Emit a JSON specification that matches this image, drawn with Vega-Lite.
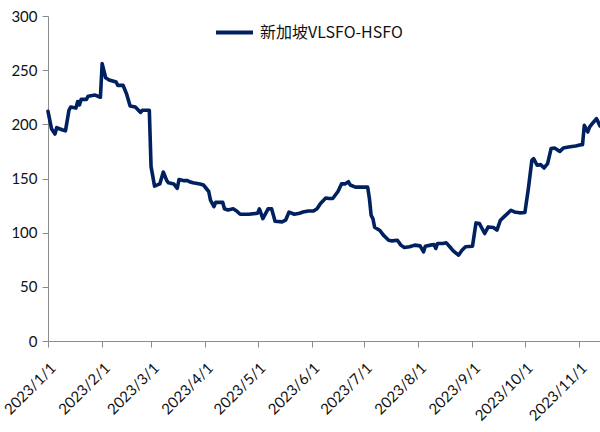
{
  "$schema": "https://vega.github.io/schema/vega-lite/v6.json",
  "width": 552,
  "height": 325,
  "autosize": {"type": "none"},
  "padding": {"left": 48, "top": 16, "right": 0, "bottom": 91},
  "background": "white",
  "config": {
    "view": {"stroke": null},
    "font": "Lato",
    "axis": {"labelFont": "Lato", "labelFontSize": 15, "labelColor": "#111111", "domainColor": "#8c8c8c", "tickColor": "#8c8c8c", "tickSize": 6, "grid": false, "title": null}
  },
  "data": {
    "values": [
      {"date": "2023/1/1", "value": 212},
      {"date": "2023/1/3", "value": 196},
      {"date": "2023/1/5", "value": 191},
      {"date": "2023/1/6", "value": 197},
      {"date": "2023/1/9", "value": 195},
      {"date": "2023/1/11", "value": 194},
      {"date": "2023/1/13", "value": 213},
      {"date": "2023/1/14", "value": 216},
      {"date": "2023/1/17", "value": 215},
      {"date": "2023/1/18", "value": 221},
      {"date": "2023/1/19", "value": 218},
      {"date": "2023/1/20", "value": 223},
      {"date": "2023/1/23", "value": 223},
      {"date": "2023/1/24", "value": 226},
      {"date": "2023/1/28", "value": 227},
      {"date": "2023/1/31", "value": 225},
      {"date": "2023/2/1", "value": 256},
      {"date": "2023/2/3", "value": 243},
      {"date": "2023/2/5", "value": 241},
      {"date": "2023/2/9", "value": 239},
      {"date": "2023/2/10", "value": 236},
      {"date": "2023/2/13", "value": 236},
      {"date": "2023/2/15", "value": 228},
      {"date": "2023/2/17", "value": 217},
      {"date": "2023/2/20", "value": 216},
      {"date": "2023/2/23", "value": 211},
      {"date": "2023/2/24", "value": 213},
      {"date": "2023/2/28", "value": 213},
      {"date": "2023/3/1", "value": 161},
      {"date": "2023/3/3", "value": 143},
      {"date": "2023/3/6", "value": 145},
      {"date": "2023/3/8", "value": 156},
      {"date": "2023/3/10", "value": 148},
      {"date": "2023/3/11", "value": 146},
      {"date": "2023/3/14", "value": 145},
      {"date": "2023/3/16", "value": 141},
      {"date": "2023/3/17", "value": 149},
      {"date": "2023/3/20", "value": 148},
      {"date": "2023/3/22", "value": 148},
      {"date": "2023/3/23", "value": 147},
      {"date": "2023/3/25", "value": 146},
      {"date": "2023/3/29", "value": 145},
      {"date": "2023/3/31", "value": 144},
      {"date": "2023/4/3", "value": 138},
      {"date": "2023/4/4", "value": 130},
      {"date": "2023/4/6", "value": 124},
      {"date": "2023/4/7", "value": 128},
      {"date": "2023/4/11", "value": 128},
      {"date": "2023/4/12", "value": 122},
      {"date": "2023/4/14", "value": 121},
      {"date": "2023/4/17", "value": 122},
      {"date": "2023/4/19", "value": 120},
      {"date": "2023/4/21", "value": 117},
      {"date": "2023/4/26", "value": 117},
      {"date": "2023/5/1", "value": 118},
      {"date": "2023/5/2", "value": 122},
      {"date": "2023/5/4", "value": 113},
      {"date": "2023/5/7", "value": 122},
      {"date": "2023/5/9", "value": 122},
      {"date": "2023/5/11", "value": 110.5},
      {"date": "2023/5/15", "value": 110},
      {"date": "2023/5/17", "value": 111.5},
      {"date": "2023/5/19", "value": 119},
      {"date": "2023/5/22", "value": 117},
      {"date": "2023/5/25", "value": 118},
      {"date": "2023/5/27", "value": 119},
      {"date": "2023/5/30", "value": 120},
      {"date": "2023/6/2", "value": 120},
      {"date": "2023/6/4", "value": 122},
      {"date": "2023/6/6", "value": 127},
      {"date": "2023/6/9", "value": 132},
      {"date": "2023/6/11", "value": 131.5},
      {"date": "2023/6/13", "value": 131.5},
      {"date": "2023/6/16", "value": 138},
      {"date": "2023/6/18", "value": 145},
      {"date": "2023/6/20", "value": 145},
      {"date": "2023/6/22", "value": 147},
      {"date": "2023/6/23", "value": 144},
      {"date": "2023/6/26", "value": 142},
      {"date": "2023/6/29", "value": 142},
      {"date": "2023/7/3", "value": 142},
      {"date": "2023/7/4", "value": 131.5},
      {"date": "2023/7/5", "value": 116},
      {"date": "2023/7/6", "value": 113},
      {"date": "2023/7/7", "value": 105},
      {"date": "2023/7/10", "value": 102},
      {"date": "2023/7/12", "value": 97.7},
      {"date": "2023/7/15", "value": 93},
      {"date": "2023/7/17", "value": 92.4},
      {"date": "2023/7/20", "value": 93},
      {"date": "2023/7/22", "value": 88.5},
      {"date": "2023/7/24", "value": 86.3},
      {"date": "2023/7/27", "value": 87},
      {"date": "2023/7/30", "value": 88.5},
      {"date": "2023/8/2", "value": 87.8},
      {"date": "2023/8/4", "value": 82.3},
      {"date": "2023/8/5", "value": 87.5},
      {"date": "2023/8/8", "value": 88.5},
      {"date": "2023/8/10", "value": 89},
      {"date": "2023/8/11", "value": 85.4},
      {"date": "2023/8/12", "value": 90},
      {"date": "2023/8/15", "value": 90},
      {"date": "2023/8/17", "value": 90.6},
      {"date": "2023/8/19", "value": 87},
      {"date": "2023/8/21", "value": 83.2},
      {"date": "2023/8/24", "value": 79.2},
      {"date": "2023/8/26", "value": 83.8},
      {"date": "2023/8/28", "value": 87},
      {"date": "2023/9/1", "value": 87.5},
      {"date": "2023/9/3", "value": 109},
      {"date": "2023/9/5", "value": 108.4},
      {"date": "2023/9/8", "value": 99.2},
      {"date": "2023/9/10", "value": 105.3},
      {"date": "2023/9/13", "value": 104.8},
      {"date": "2023/9/15", "value": 102.3},
      {"date": "2023/9/17", "value": 111.5},
      {"date": "2023/9/19", "value": 114.6},
      {"date": "2023/9/21", "value": 117.6},
      {"date": "2023/9/23", "value": 120.7},
      {"date": "2023/9/25", "value": 119.1},
      {"date": "2023/9/28", "value": 118.3},
      {"date": "2023/10/1", "value": 118.6},
      {"date": "2023/10/3", "value": 140.7},
      {"date": "2023/10/5", "value": 166.8},
      {"date": "2023/10/6", "value": 168.3},
      {"date": "2023/10/8", "value": 162.2},
      {"date": "2023/10/10", "value": 162.8},
      {"date": "2023/10/12", "value": 159.7},
      {"date": "2023/10/14", "value": 163.7},
      {"date": "2023/10/16", "value": 177.6},
      {"date": "2023/10/18", "value": 178.1},
      {"date": "2023/10/21", "value": 175},
      {"date": "2023/10/23", "value": 178.1},
      {"date": "2023/10/26", "value": 179},
      {"date": "2023/10/30", "value": 180},
      {"date": "2023/11/2", "value": 181.2},
      {"date": "2023/11/3", "value": 181.2},
      {"date": "2023/11/4", "value": 199},
      {"date": "2023/11/6", "value": 192.9},
      {"date": "2023/11/7", "value": 197.5},
      {"date": "2023/11/9", "value": 201.5},
      {"date": "2023/11/11", "value": 205.2},
      {"date": "2023/11/12", "value": 202},
      {"date": "2023/11/13", "value": 198.4}
    ]
  },
  "mark": {"type": "line", "strokeWidth": 3.6, "strokeJoin": "round", "strokeCap": "round"},
  "encoding": {
    "x": {
      "field": "date",
      "type": "temporal",
      "scale": {"domain": [{"year": 2023, "month": 1, "date": 1}, {"year": 2023, "month": 11, "date": 13}]},
      "axis": {"format": "%Y/%-m/%-d", "labelAngle": -45, "tickCount": {"interval": "month", "step": 1}, "labelPadding": 13, "labelOverlap": false}
    },
    "y": {
      "field": "value",
      "type": "quantitative",
      "scale": {"domain": [0, 300], "nice": false},
      "axis": {"values": [0, 50, 100, 150, 200, 250, 300], "labelPadding": 5}
    },
    "color": {
      "datum": "新加坡VLSFO-HSFO",
      "scale": {"range": ["#002060"]},
      "legend": {
        "title": null,
        "orient": "none",
        "legendX": 166,
        "legendY": -4,
        "symbolType": "stroke",
        "symbolSize": 1369,
        "symbolStrokeWidth": 4,
        "labelFont": "Noto Sans CJK SC",
        "labelFontSize": 16,
        "labelColor": "#111111",
        "labelOffset": 5,
        "padding": 0
      }
    }
  }
}
